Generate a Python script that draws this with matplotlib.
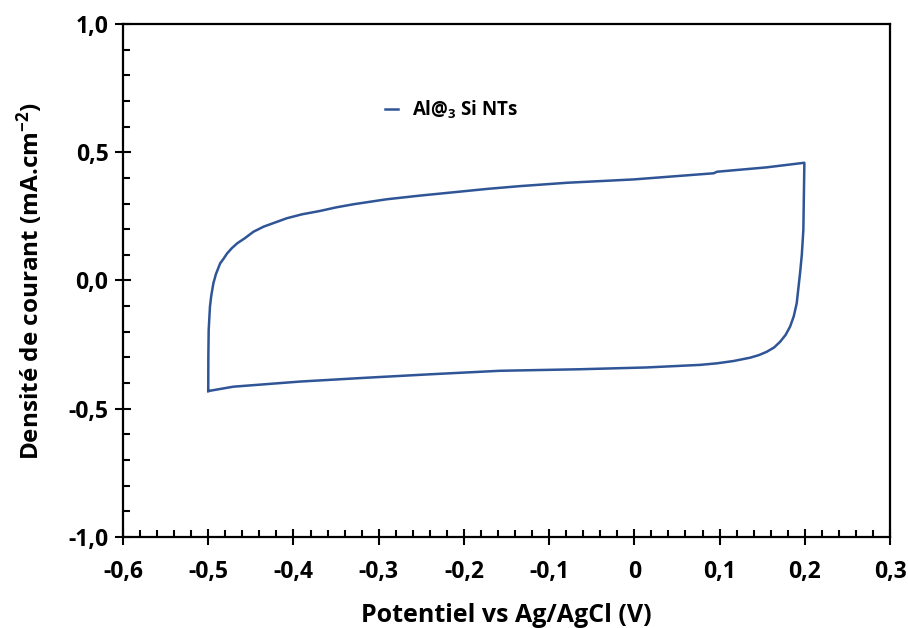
import matplotlib
matplotlib.use('Agg')
import matplotlib.pyplot as plt
from matplotlib.ticker import MultipleLocator, FixedLocator, FixedFormatter

# courbe CV : montée à gauche, branche haute, descente à droite, branche basse
potentiel = [-0.500, -0.4999, -0.4995, -0.498, -0.4965, -0.494, -0.491, -0.486,
             -0.482, -0.478, -0.4725, -0.466, -0.457, -0.447, -0.435, -0.420,
             -0.408, -0.390, -0.369, -0.350, -0.330, -0.291, -0.2515, -0.212,
             -0.173, -0.134, -0.079, -0.001, 0.093, 0.097, 0.155, 0.1995,
             0.1990, 0.1983, 0.1965, 0.1944, 0.1905, 0.1870, 0.1827, 0.1775,
             0.171, 0.164, 0.1553, 0.146, 0.1358, 0.1162, 0.0967, 0.077,
             0.0145, -0.0637, -0.1576, -0.2359, -0.314, -0.3923, -0.4706, -0.500]
courant = [-0.431, -0.300, -0.193, -0.102, -0.060, -0.011, 0.025, 0.067,
           0.085, 0.105, 0.1255, 0.145, 0.165, 0.190, 0.210, 0.228,
           0.2425, 0.258, 0.271, 0.285, 0.297, 0.3165, 0.331, 0.344,
           0.357, 0.368, 0.381, 0.394, 0.418, 0.424, 0.441, 0.459,
           0.350, 0.197, 0.100, 0.028, -0.089, -0.140, -0.180, -0.212,
           -0.239, -0.261, -0.278, -0.291, -0.301, -0.314, -0.323, -0.329,
           -0.339, -0.346, -0.352, -0.365, -0.379, -0.394, -0.414, -0.431]

xticks = [-0.6, -0.5, -0.4, -0.3, -0.2, -0.1, 0.0, 0.1, 0.2, 0.3]
xtick_labels = ['-0,6', '-0,5', '-0,4', '-0,3', '-0,2', '-0,1', '0', '0,1', '0,2', '0,3']
yticks = [-1.0, -0.5, 0.0, 0.5, 1.0]
ytick_labels = ['-1,0', '-0,5', '0,0', '0,5', '1,0']

plt.rcParams['font.family'] = ['Open Sans', 'DejaVu Sans']
plt.rcParams['font.weight'] = 'bold'
plt.rcParams['mathtext.fontset'] = 'custom'
plt.rcParams['mathtext.rm'] = 'Open Sans:bold'
plt.rcParams['mathtext.bf'] = 'Open Sans:bold'
plt.rcParams['mathtext.default'] = 'rm'

fig = plt.figure(figsize=(9.08, 6.28), dpi=100)
ax = fig.add_axes([0.1355, 0.1449, 0.8447, 0.8169])

ax.plot(potentiel, courant, color='#2F5597', lw=1.8, label='Al@$_3$ Si NTs')

ax.set_xlim(-0.6, 0.3)
ax.set_ylim(-1.0, 1.0)
ax.xaxis.set_major_locator(FixedLocator(xticks))
ax.xaxis.set_major_formatter(FixedFormatter(xtick_labels))
ax.yaxis.set_major_locator(FixedLocator(yticks))
ax.yaxis.set_major_formatter(FixedFormatter(ytick_labels))
ax.xaxis.set_minor_locator(MultipleLocator(0.02))
ax.yaxis.set_minor_locator(MultipleLocator(0.1))

ax.tick_params(which='major', direction='inout', length=11, width=1.5,
               labelsize=16.5, color='black')
ax.tick_params(axis='x', which='major', pad=11)
ax.tick_params(axis='y', which='major', pad=5)
ax.tick_params(which='minor', direction='in', length=5, width=1.5)
for s in ax.spines.values():
    s.set_linewidth(1.6)
    s.set_color('black')

ax.set_xlabel('Potentiel vs Ag/AgCl (V)', fontsize=18, fontweight='bold', labelpad=14)
ax.set_ylabel('Densité de courant (mA.cm$^{-2}$)', fontsize=17.5, fontweight='bold', labelpad=17)

ax.legend(loc='center left', bbox_to_anchor=(0.3416, 0.832), frameon=False,
          fontsize=13.5, handlelength=0.7, handletextpad=0.75,
          borderaxespad=0, borderpad=0)

fig.savefig('out.png', dpi=100)
